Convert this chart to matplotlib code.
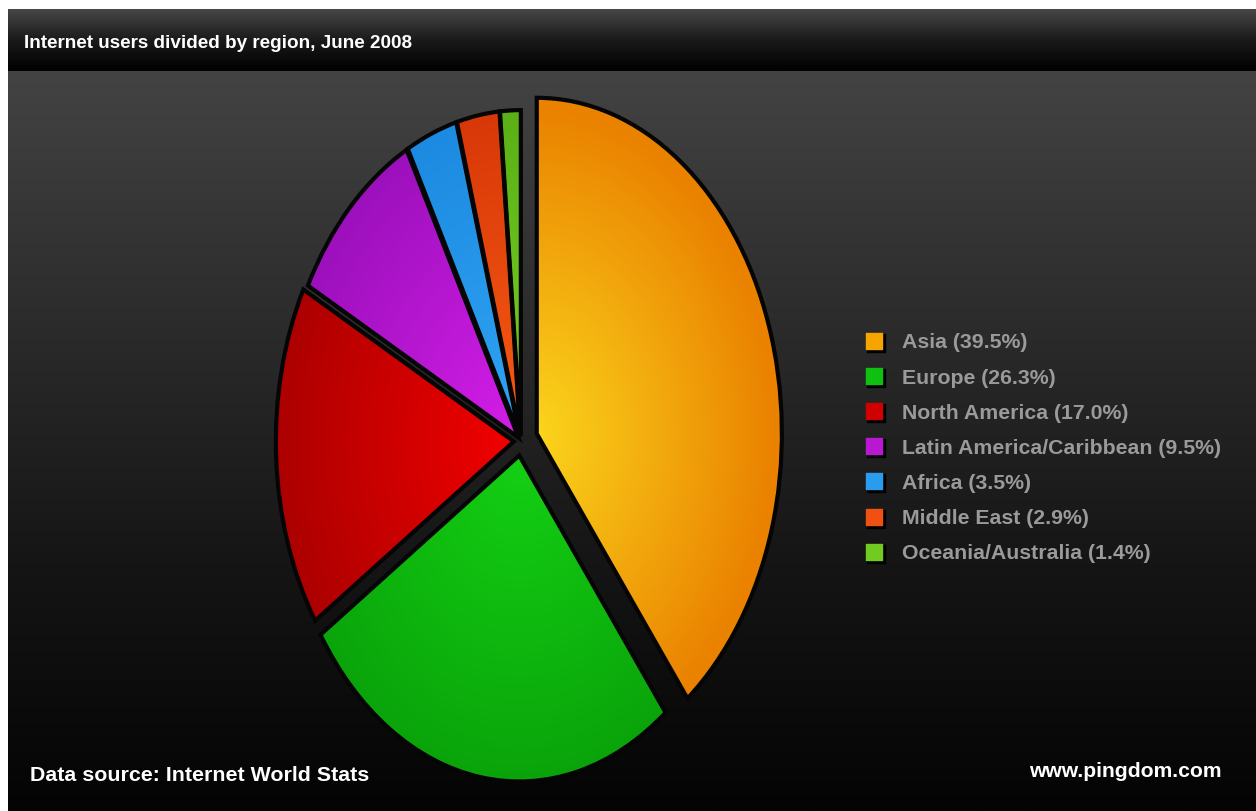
import numpy as np
import matplotlib.pyplot as plt
from matplotlib.colors import LinearSegmentedColormap

# Data
regions = ["Asia", "Europe", "North America", "Latin America/Caribbean",
           "Africa", "Middle East", "Oceania/Australia"]
shares = [39.5, 26.3, 17.0, 9.5, 3.5, 2.9, 1.4]

# slice colours (inner -> outer)
light = ["#fbd51c", "#14d014", "#f20000", "#d41ee8", "#30a4f4", "#f85a14", "#78d024"]
dark = ["#ea8200", "#0aa40a", "#ac0000", "#9c10bc", "#1c8ae0", "#d83808", "#5ab016"]
legend_col = ["#f5a400", "#10c010", "#d00000", "#b818d0", "#2a9cf0", "#f05010", "#70cc20"]
explode = [0.07, 0.045, 0.03, 0.015, 0.015, 0.015, 0.015]

FONT = "Liberation Sans"
W, H = 1256, 812
fig = plt.figure(figsize=(W / 100, H / 100), dpi=100, facecolor="white")

# background in pixel coords
bg = fig.add_axes([0, 0, 1, 1])
bg.axis("off")
grad = np.linspace(0, 1, 256).reshape(-1, 1)
body_cmap = LinearSegmentedColormap.from_list("body", ["#434343", "#2c2c2c", "#151515", "#040404"])
bg.imshow(grad, cmap=body_cmap, extent=[8, W, H, 72], aspect="auto")
bar_cmap = LinearSegmentedColormap.from_list("bar", ["#474747", "#1a1a1a", "#000000"])
bg.imshow(grad, cmap=bar_cmap, extent=[8, W, 72, 10], aspect="auto")
bg.set_xlim(0, W)
bg.set_ylim(H, 0)

bg.text(24, 43, "Internet users divided by region, June 2008", color="white",
        fontsize=13.6, fontweight="bold", family=FONT, va="center")
bg.text(30, 776, "Data source: Internet World Stats", color="white",
        fontsize=15.4, fontweight="bold", family=FONT, va="center")
bg.text(1222, 772, "www.pingdom.com", color="white",
        fontsize=15.2, fontweight="bold", family=FONT, va="center", ha="right")

# legend
for i, (name, s, c) in enumerate(zip(regions, shares, legend_col)):
    y = 342 + i * 35.1
    bg.scatter([876], [y + 2], s=150, marker="s", color="black", zorder=3)
    bg.scatter([874], [y], s=120, marker="s", color=c, zorder=4)
    bg.text(902, y + 1, f"{name} ({s:.1f}%)", color="#9a9a9a", fontsize=15.3,
            fontweight="bold", family=FONT, va="center")

# elliptical pie
cx, cy, rx, ry = 521, 442, 238, 326
lim = 1.2
pax = fig.add_axes([(cx - lim * rx) / W, (H - cy - lim * ry) / H,
                    2 * lim * rx / W, 2 * lim * ry / H])
pax.axis("off")
wedges, _ = pax.pie(shares, explode=explode, startangle=90, counterclock=False,
                    radius=1, wedgeprops=dict(edgecolor="#050505", linewidth=3))
wedges[0].set_radius(1.03)
X, Y = np.meshgrid(np.linspace(-lim, lim, 500), np.linspace(-lim, lim, 500))
for w, ci, co in zip(wedges, light, dark):
    wx, wy = w.center
    R = np.clip(np.hypot(X - wx, Y - wy), 0, 1)
    cmap = LinearSegmentedColormap.from_list("w", [ci, co])
    im = pax.imshow(R, cmap=cmap, vmin=0, vmax=1, origin="lower",
                    extent=[-lim, lim, -lim, lim], zorder=w.get_zorder() - 0.5)
    im.set_clip_path(w)
    w.set_facecolor("none")
pax.set_aspect("auto")
pax.set_xlim(-lim, lim)
pax.set_ylim(-lim, lim)

fig.savefig("out.png", dpi=100, facecolor="white")
